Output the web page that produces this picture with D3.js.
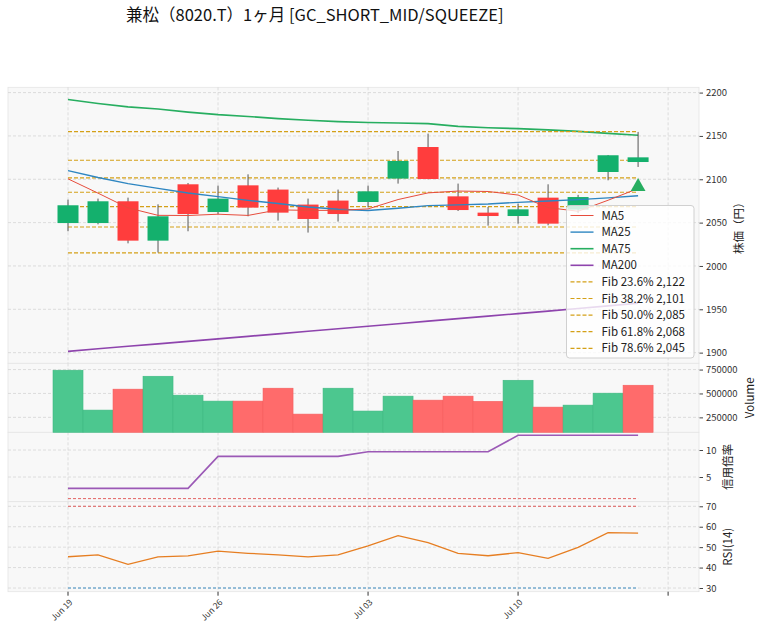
<!DOCTYPE html>
<html>
<head>
<meta charset="utf-8">
<script src="https://cdn.jsdelivr.net/npm/d3@7"></script>
<style>
  body { margin: 0; background: #fff; }
  svg text { font-family: "Noto Sans CJK JP", "Noto Sans", sans-serif; fill: #333; }
</style>
</head>
<body>
<div id="viz"></div>
<script>
// ---- data ----
var dates = ["2023-06-19","2023-06-20","2023-06-21","2023-06-22","2023-06-23",
             "2023-06-26","2023-06-27","2023-06-28","2023-06-29","2023-06-30",
             "2023-07-03","2023-07-04","2023-07-05","2023-07-06","2023-07-07",
             "2023-07-10","2023-07-11","2023-07-12","2023-07-13","2023-07-14"];
var opens  = [2049.5,2049.5,2074.6,2029.2,2094.2,2062.2,2093,2088.1,2070.8,2075.4,2073.8,2100.8,2137.2,2080.3,2061.5,2057.6,2078.8,2065,2108.4,2119.9];
var highs  = [2076.5,2077.7,2078.8,2071.1,2095.7,2092.7,2105.7,2090.4,2077.7,2088.1,2092.7,2132.6,2152.7,2095,2068,2071.9,2094.2,2082,2128,2154.5];
var lows   = [2040,2048,2026.1,2015.5,2040,2059.6,2057.3,2052.3,2038.5,2051.2,2067.7,2095,2100,2063.4,2046.5,2048.8,2046.9,2061,2098.8,2114.2];
var closes = [2070,2074.6,2029.2,2057.3,2059.9,2077.7,2067.3,2061.5,2054.2,2059.9,2086.1,2121.1,2100.3,2064.5,2057.6,2065.3,2048.8,2079.5,2127.7,2125.3];
var volumes = [743000,326000,545000,680000,482000,420000,420000,555000,284000,555000,316000,472000,430000,472000,417000,638000,357000,378000,503000,586000];

var ma5   = [2100.5,2084,2067,2058.4,2058.2,2059.7,2058.3,2064.7,2064.1,2064.1,2065.8,2076.6,2084.3,2086.4,2085.9,2081.8,2067.3,2063.1,2075.8,2089.3];
var ma25  = [2110,2102,2095,2089.5,2084.2,2080,2075.7,2072,2068,2065.5,2064,2066.5,2069.6,2070.5,2071.5,2073.4,2075,2076.5,2078.5,2081];
var ma75  = [2192,2187.5,2183.5,2181,2177.5,2174.6,2172.5,2170,2168,2166.5,2165.5,2165,2164.2,2161,2159.5,2158.4,2157,2155.3,2153,2150.7];
var ma200 = [1901.5,1904.4,1907.3,1910.1,1913,1915.9,1918.8,1921.7,1924.6,1927.6,1930.5,1933.4,1936.3,1939.2,1942.1,1945,1947.9,1950.9,1953.9,1957];

var fibLabels = ["Fib 23.6% 2,122","Fib 38.2% 2,101","Fib 50.0% 2,085","Fib 61.8% 2,068","Fib 78.6% 2,045"];
var fibLevels = [2121.96,2101.52,2085,2068.48,2044.96];
var fibEnds = [2155,2015]; // 0% and 100%

var marginRatio = [2.9,2.9,2.9,2.9,2.9,8.83,8.83,8.83,8.83,8.83,9.69,9.69,9.69,9.69,9.69,12.72,12.72,12.72,12.72,12.72];
var rsi = [45.3,46.2,41.6,45.2,45.7,48.1,47,46.2,45.2,46.2,50.6,55.6,52.2,47,45.8,47.3,44.5,49.9,57.1,56.9];

var signalPrice = 2091.5;

var priceTicks = [1900,1950,2000,2050,2100,2150,2200];
var volTicks = [250000,500000,750000];
var marginTicks = [5,10];
var rsiTicks = [30,40,50,60,70];

// ---- layout ----
var width = 764, height = 633;
var left = 8, right = 699;
var pPrice = [87.3, 363.3], pVol = [363.3, 432.3], pMargin = [432.3, 501.7], pRsi = [501.7, 591.7];

var svg = d3.select("#viz").append("svg").attr("width", width).attr("height", height);

var x = d3.scaleLinear().domain([-2, 21.03]).range([left, right]);
var yPrice = d3.scaleLinear().domain([1887.7, 2206.1]).range([pPrice[1], pPrice[0]]);
var yVol = d3.scaleLinear().domain([93750, 815600]).range([pVol[1], pVol[0]]);
var yMargin = d3.scaleLinear().domain([0.43, 13.28]).range([pMargin[1], pMargin[0]]);
var yRsi = d3.scaleLinear().domain([28.19, 72.25]).range([pRsi[1], pRsi[0]]);

var xTicks = [0, 5, 10, 15, 20];
var parse = d3.timeParse("%Y-%m-%d"), fmt = d3.timeFormat("%b %d");

var green = "#14b06d", red = "#ff3d3d";

// title
svg.append("text")
    .attr("x", 126)
    .attr("y", 21)
    .style("font-size", "16.5px")
    .style("fill", "#111")
    .text("兼松（8020.T）1ヶ月 [GC_SHORT_MID/SQUEEZE]");

function drawPanel(ext, yScale, ticks, label, labelX){
  var g = svg.append("g");
  g.append("rect")
      .attr("x", left).attr("y", ext[0])
      .attr("width", right - left).attr("height", ext[1] - ext[0])
      .attr("fill", "#f8f8f8")
      .attr("stroke", "#e4e4e4")
      .attr("stroke-width", 0.8);

  // grid
  g.selectAll(".hg").data(ticks).enter().append("line")
      .attr("x1", left).attr("x2", right)
      .attr("y1", function(d){ return yScale(d); })
      .attr("y2", function(d){ return yScale(d); })
      .attr("stroke", "#d6d6d6").attr("stroke-width", 0.8)
      .attr("stroke-dasharray", "3,2");
  g.selectAll(".vg").data(xTicks).enter().append("line")
      .attr("x1", function(d){ return x(d); })
      .attr("x2", function(d){ return x(d); })
      .attr("y1", ext[0]).attr("y2", ext[1])
      .attr("stroke", "#d6d6d6").attr("stroke-width", 0.8)
      .attr("stroke-dasharray", "3,2");

  // right axis
  var axis = d3.axisRight(yScale).tickValues(ticks).tickSize(3.5).tickPadding(3)
      .tickFormat(function(d){ return String(d); });
  var ag = svg.append("g")
      .attr("transform", "translate(" + (right + 0.5) + ",0)")
      .call(axis);
  ag.select(".domain").remove();
  ag.selectAll("line").attr("stroke", "#444");
  ag.selectAll("text").style("font-size", "9.5px").style("fill", "#333");

  svg.append("text")
      .attr("transform", "translate(" + labelX + "," + ((ext[0] + ext[1]) / 2) + ") rotate(-90)")
      .attr("text-anchor", "middle")
      .attr("dy", "0.35em")
      .style("font-size", "11.5px")
      .style("fill", "#222")
      .text(label);
  return g;
}

drawPanel(pPrice, yPrice, priceTicks, "株価（円）", 739);
drawPanel(pVol, yVol, volTicks, "Volume", 750);
drawPanel(pMargin, yMargin, marginTicks, "信用倍率", 728);
drawPanel(pRsi, yRsi, rsiTicks, "RSI(14)", 728);

var idx = d3.range(closes.length);

function lineOf(arr, yScale){
  return d3.line().x(function(d, i){ return x(i); }).y(function(d){ return yScale(d); })(arr);
}
function flat(v){ return idx.map(function(){ return v; }); }

// ---- price panel ----
var pg = svg.append("g");
// moving averages
pg.append("path").attr("d", lineOf(ma75, yPrice)).attr("fill", "none").attr("stroke", "#27ae60").attr("stroke-width", 1.6);
pg.append("path").attr("d", lineOf(ma200, yPrice)).attr("fill", "none").attr("stroke", "#8e44ad").attr("stroke-width", 1.6);

// fib lines
fibEnds.concat(fibLevels).forEach(function(v){
  pg.append("path").attr("d", lineOf(flat(v), yPrice))
      .attr("fill", "none").attr("stroke", "#d4a017").attr("stroke-width", 1.2)
      .attr("stroke-dasharray", "4,2");
});

// candles
var cg = pg.selectAll(".candle").data(idx).enter().append("g");
cg.append("line")
    .attr("x1", function(i){ return x(i); }).attr("x2", function(i){ return x(i); })
    .attr("y1", function(i){ return yPrice(highs[i]); })
    .attr("y2", function(i){ return yPrice(lows[i]); })
    .attr("stroke", "#555").attr("stroke-width", 1);
cg.append("rect")
    .attr("x", function(i){ return x(i) - 10.5; })
    .attr("width", 21)
    .attr("y", function(i){ return yPrice(Math.max(opens[i], closes[i])); })
    .attr("height", function(i){ return Math.max(1, Math.abs(yPrice(opens[i]) - yPrice(closes[i]))); })
    .attr("fill", function(i){ return closes[i] >= opens[i] ? green : red; });

pg.append("path").attr("d", lineOf(ma25, yPrice)).attr("fill", "none").attr("stroke", "#2e86c1").attr("stroke-width", 1.4);
pg.append("path").attr("d", lineOf(ma5, yPrice)).attr("fill", "none").attr("stroke", "#e74c3c").attr("stroke-width", 1);

// signal marker
pg.append("path")
    .attr("d", d3.symbol().type(d3.symbolTriangle).size(95)())
    .attr("transform", "translate(" + x(idx.length - 1) + "," + yPrice(signalPrice) + ")")
    .attr("fill", "#27ae60");

// ---- volume ----
svg.append("g").selectAll("rect").data(idx).enter().append("rect")
    .attr("x", function(i){ return x(i) - 15; })
    .attr("width", 30)
    .attr("y", function(i){ return yVol(volumes[i]); })
    .attr("height", function(i){ return pVol[1] - yVol(volumes[i]); })
    .attr("fill", function(i){ return (i == 0 || closes[i] >= closes[i - 1]) ? "#4cc78f" : "#ff6b6b"; })
    .attr("stroke", function(i){ return (i == 0 || closes[i] >= closes[i - 1]) ? "#3fb982" : "#f45e5e"; })
    .attr("stroke-width", 0.6);

// ---- margin ratio ----
svg.append("path").attr("d", lineOf(flat(1), yMargin)).attr("fill", "none")
    .attr("stroke", "#e05050").attr("stroke-width", 0.9).attr("stroke-dasharray", "3,2");
svg.append("path").attr("d", lineOf(marginRatio, yMargin)).attr("fill", "none")
    .attr("stroke", "#9b59b6").attr("stroke-width", 1.6);

// ---- RSI ----
svg.append("path").attr("d", lineOf(flat(70), yRsi)).attr("fill", "none")
    .attr("stroke", "#e05050").attr("stroke-width", 0.9).attr("stroke-dasharray", "3,2");
svg.append("path").attr("d", lineOf(flat(30), yRsi)).attr("fill", "none")
    .attr("stroke", "#2e86c1").attr("stroke-width", 0.9).attr("stroke-dasharray", "3,2");
svg.append("path").attr("d", lineOf(rsi, yRsi)).attr("fill", "none")
    .attr("stroke", "#e67e22").attr("stroke-width", 1.3);

// ---- x axis ----
var xg = svg.append("g");
xg.selectAll("line").data(xTicks).enter().append("line")
    .attr("x1", function(d){ return x(d); }).attr("x2", function(d){ return x(d); })
    .attr("y1", pRsi[1]).attr("y2", pRsi[1] + 4)
    .attr("stroke", "#333");
xg.selectAll("text").data(xTicks.filter(function(d){ return d < dates.length; })).enter().append("text")
    .attr("transform", function(d){ return "translate(" + (x(d) + 3) + "," + (pRsi[1] + 9) + ") rotate(-45)"; })
    .attr("text-anchor", "end")
    .attr("dy", "0.35em")
    .style("font-size", "8.5px")
    .text(function(d){ return fmt(parse(dates[d])); });

// ---- legend ----
var legendItems = [
  {name: "MA5", color: "#e74c3c", w: 1, dash: null},
  {name: "MA25", color: "#2e86c1", w: 1.4, dash: null},
  {name: "MA75", color: "#27ae60", w: 1.6, dash: null},
  {name: "MA200", color: "#8e44ad", w: 1.6, dash: null}
].concat(fibLabels.map(function(l){ return {name: l, color: "#d4a017", w: 1.2, dash: "4,2"}; }));

var lg = svg.append("g").attr("transform", "translate(566.5,205.5)");
lg.append("rect")
    .attr("width", 127.5).attr("height", 152.5)
    .attr("rx", 3)
    .attr("fill", "#fff").attr("fill-opacity", 0.8)
    .attr("stroke", "#d0d0d0");
var li = lg.selectAll(".li").data(legendItems).enter().append("g")
    .attr("transform", function(d, i){ return "translate(0," + (10 + i * 16.6) + ")"; });
li.append("line")
    .attr("x1", 4).attr("x2", 27)
    .attr("stroke", function(d){ return d.color; })
    .attr("stroke-width", function(d){ return d.w; })
    .attr("stroke-dasharray", function(d){ return d.dash; });
li.append("text")
    .attr("x", 35).attr("dy", "0.35em")
    .style("font-size", "11.5px")
    .style("fill", "#222")
    .text(function(d){ return d.name; });
</script>
</body>
</html>
